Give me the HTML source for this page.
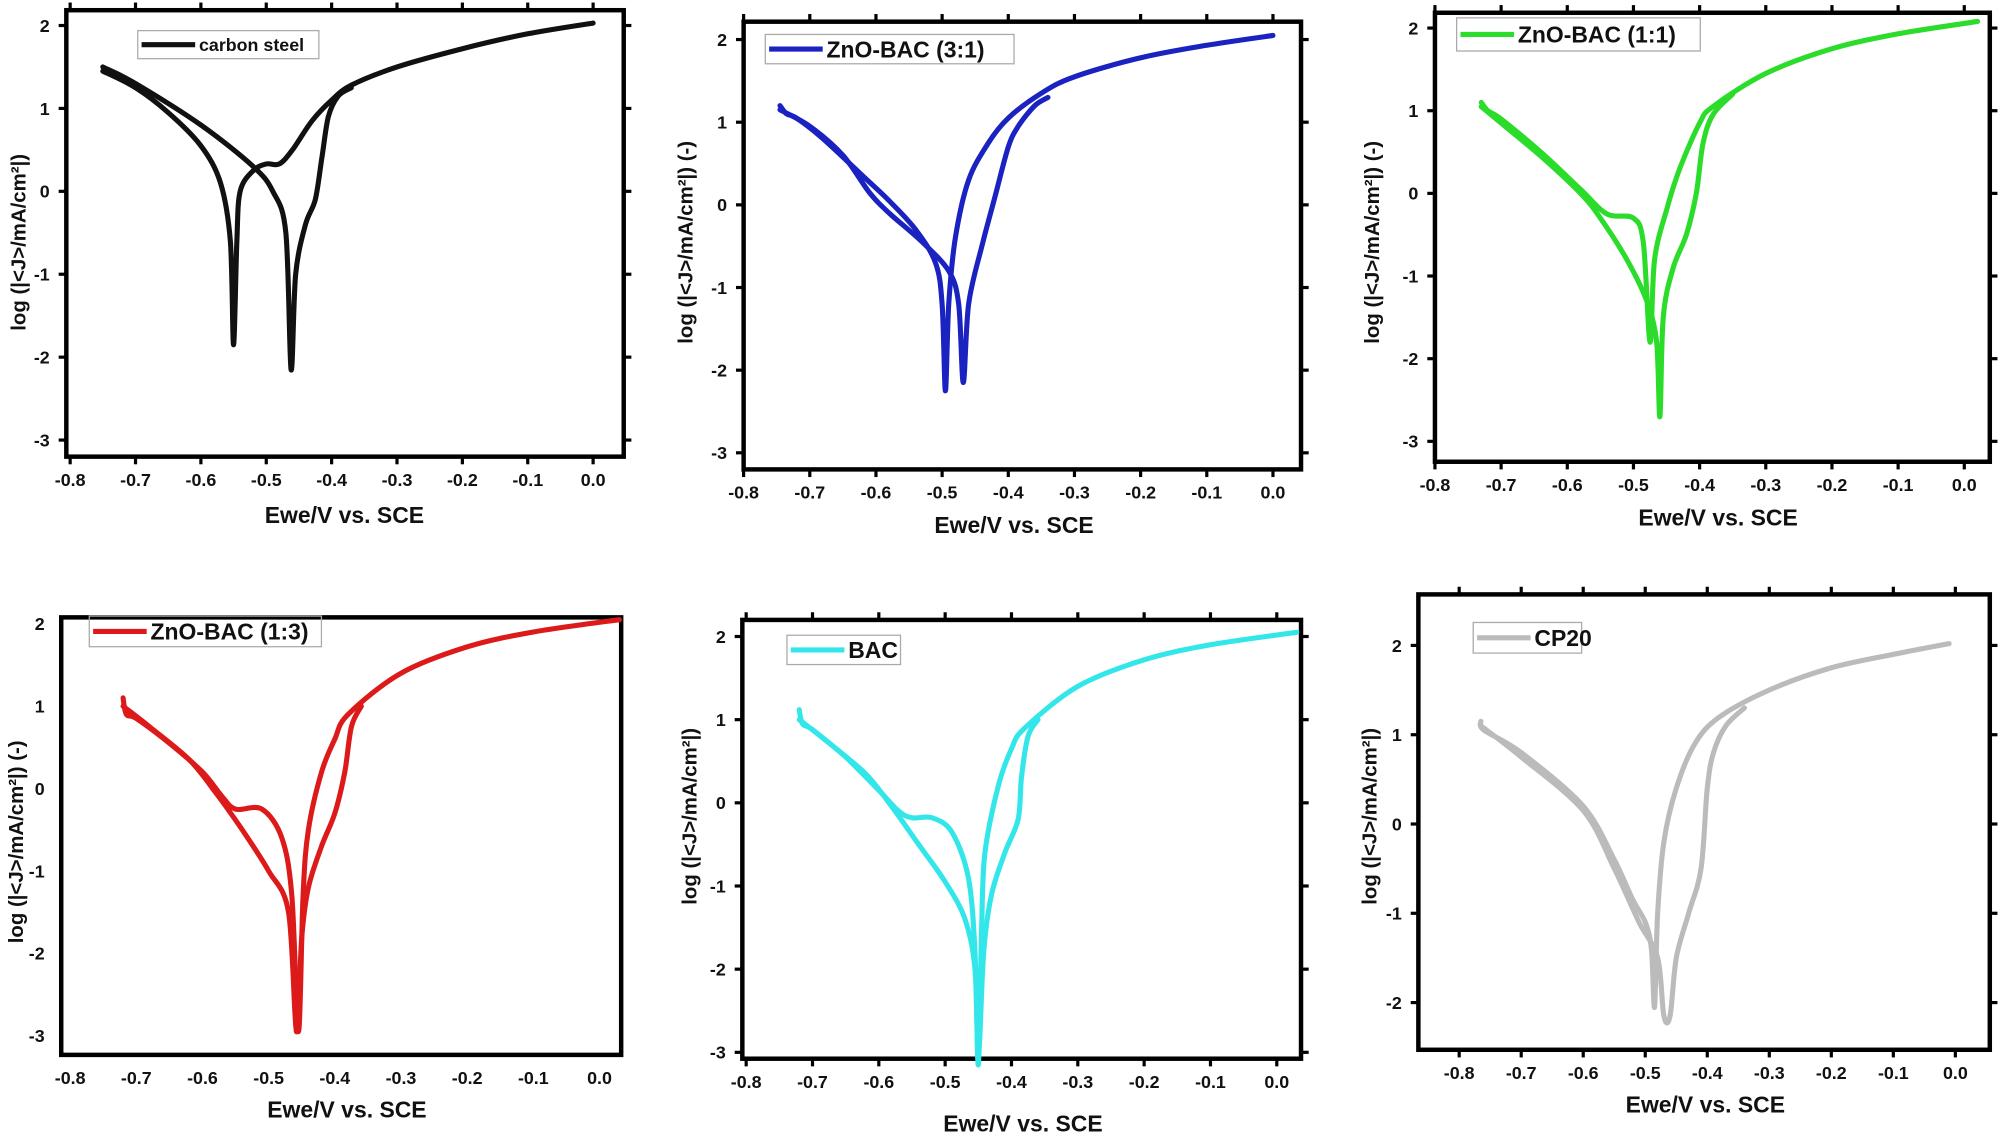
<!DOCTYPE html>
<html><head><meta charset="utf-8"><style>
html,body{margin:0;padding:0;background:#fff;width:2000px;height:1142px;overflow:hidden}
svg{display:block}
text{font-family:"Liberation Sans",Arial,sans-serif;font-weight:bold;fill:#111}
</style></head><body>
<svg id="s" width="2000" height="1142" viewBox="0 0 1568 895.3" preserveAspectRatio="none" xmlns="http://www.w3.org/2000/svg"></svg>
<script>
const P=[
{f:[52,8,489,358],x0:55,x1:465,y2:20,y3:345,col:'#111',lab:'carbon steel',lg:[108,24,250,46],ls:14,yl:[14,190,''],xl:[270,410],ticks:true,
A:[[-0.75,1.45],[-0.7,1.25],[-0.65,0.95],[-0.6,0.55],[-0.57,0.1],[-0.555,-0.6],[-0.55,-1.85],[-0.545,-0.6],[-0.54,0.0],[-0.52,0.25],[-0.5,0.33],[-0.48,0.33],[-0.46,0.5],[-0.43,0.85],[-0.4,1.1],[-0.37,1.28],[-0.3,1.5],[-0.2,1.72],[-0.1,1.9],[0,2.03]],
B:[[-0.75,1.5],[-0.7,1.3],[-0.6,0.8],[-0.52,0.3],[-0.49,0.0],[-0.47,-0.5],[-0.462,-2.15],[-0.455,-1.0],[-0.44,-0.4],[-0.425,-0.1],[-0.415,0.4],[-0.405,0.9],[-0.39,1.15],[-0.37,1.25]]},
{f:[583,17,1020,368],x0:583,x1:998,y2:31,y3:355,col:'#1a22c0',lab:'ZnO-BAC (3:1)',lg:[600,27,795,50],ls:18,yl:[537,190,' (-)'],xl:[795,418],ticks:true,
A:[[-0.745,1.2],[-0.735,1.1],[-0.72,1.05],[-0.68,0.8],[-0.62,0.35],[-0.58,0.05],[-0.54,-0.3],[-0.51,-0.7],[-0.5,-1.2],[-0.495,-2.25],[-0.49,-1.2],[-0.48,-0.4],[-0.46,0.3],[-0.43,0.75],[-0.4,1.05],[-0.35,1.35],[-0.3,1.55],[-0.2,1.78],[-0.1,1.93],[0,2.05]],
B:[[-0.745,1.15],[-0.7,0.95],[-0.65,0.6],[-0.61,0.15],[-0.58,-0.1],[-0.53,-0.45],[-0.49,-0.8],[-0.475,-1.2],[-0.468,-2.15],[-0.46,-1.2],[-0.44,-0.5],[-0.42,0.1],[-0.4,0.7],[-0.385,0.95],[-0.36,1.2],[-0.34,1.3]]},
{f:[1125,10,1560,362],x0:1125,x1:1540,y2:22,y3:346,col:'#2bdc2b',lab:'ZnO-BAC (1:1)',lg:[1142,14,1333,40],ls:18,yl:[1075,190,' (-)'],xl:[1347,412],ticks:true,
A:[[-0.73,1.1],[-0.72,1.0],[-0.7,0.9],[-0.64,0.5],[-0.58,0.05],[-0.54,-0.25],[-0.5,-0.3],[-0.485,-0.6],[-0.475,-1.8],[-0.468,-0.8],[-0.45,-0.2],[-0.43,0.3],[-0.4,0.85],[-0.38,1.05],[-0.3,1.45],[-0.2,1.75],[-0.1,1.93],[0.02,2.08]],
B:[[-0.73,1.05],[-0.7,0.85],[-0.64,0.45],[-0.58,0.0],[-0.55,-0.3],[-0.51,-0.8],[-0.48,-1.3],[-0.465,-1.8],[-0.46,-2.7],[-0.455,-1.5],[-0.44,-0.9],[-0.42,-0.5],[-0.405,0.0],[-0.395,0.6],[-0.38,0.95],[-0.35,1.2]]},
{f:[48,484,487,827],x0:55,x1:470,y2:489,y3:812,col:'#dd1a1a',lab:'ZnO-BAC (1:3)',lg:[70,483,252,507],ls:18,yl:[12,660,' (-)'],xl:[272,876],ticks:false,
A:[[-0.72,1.1],[-0.715,0.9],[-0.7,0.85],[-0.65,0.55],[-0.6,0.2],[-0.57,-0.1],[-0.55,-0.25],[-0.51,-0.25],[-0.48,-0.6],[-0.465,-1.3],[-0.455,-2.95],[-0.448,-1.3],[-0.44,-0.5],[-0.42,0.2],[-0.4,0.6],[-0.38,0.9],[-0.3,1.4],[-0.2,1.72],[-0.1,1.9],[0.03,2.05]],
B:[[-0.72,1.0],[-0.68,0.75],[-0.62,0.35],[-0.58,-0.05],[-0.54,-0.5],[-0.5,-1.0],[-0.47,-1.5],[-0.458,-2.95],[-0.45,-1.8],[-0.44,-1.2],[-0.42,-0.7],[-0.4,-0.3],[-0.385,0.2],[-0.375,0.75],[-0.36,1.0]]},
{f:[582,486,1020,830],x0:585,x1:1001,y2:499,y3:825,col:'#33e6ea',lab:'BAC',lg:[617,498,706,521],ls:18,yl:[540,640,''],xl:[802,887],ticks:true,
A:[[-0.72,1.12],[-0.715,0.95],[-0.7,0.88],[-0.65,0.55],[-0.6,0.15],[-0.57,-0.1],[-0.55,-0.18],[-0.52,-0.18],[-0.49,-0.35],[-0.465,-0.9],[-0.455,-1.8],[-0.45,-3.15],[-0.445,-1.5],[-0.44,-0.6],[-0.42,0.2],[-0.4,0.65],[-0.38,0.9],[-0.3,1.4],[-0.2,1.72],[-0.1,1.9],[0.03,2.05]],
B:[[-0.72,1.0],[-0.68,0.75],[-0.62,0.35],[-0.58,-0.05],[-0.54,-0.5],[-0.5,-0.95],[-0.47,-1.4],[-0.455,-2.0],[-0.45,-3.1],[-0.442,-1.8],[-0.43,-1.1],[-0.41,-0.6],[-0.39,-0.2],[-0.385,0.3],[-0.375,0.8],[-0.36,1.0]]},
{f:[1112,466,1560,823],x0:1144,x1:1533,y2:506,y3:856,col:'#bbbbbb',lab:'CP20',lg:[1155,488,1240,512],ls:18,yl:[1073,640,''],xl:[1337,872],ticks:true,ymin:-2,
A:[[-0.765,1.15],[-0.76,1.05],[-0.7,0.8],[-0.6,0.2],[-0.55,-0.4],[-0.52,-0.85],[-0.5,-1.1],[-0.49,-1.4],[-0.485,-2.05],[-0.48,-1.0],[-0.47,-0.2],[-0.45,0.4],[-0.42,0.9],[-0.38,1.2],[-0.3,1.5],[-0.2,1.75],[-0.1,1.9],[-0.01,2.02]],
B:[[-0.765,1.1],[-0.7,0.75],[-0.6,0.15],[-0.55,-0.5],[-0.51,-1.1],[-0.48,-1.5],[-0.47,-2.15],[-0.46,-2.15],[-0.45,-1.5],[-0.43,-1.0],[-0.41,-0.5],[-0.4,0.4],[-0.39,0.8],[-0.37,1.1],[-0.34,1.3]]}
];
function smooth(pts){
 let d='M'+pts[0][0].toFixed(1)+','+pts[0][1].toFixed(1);
 for(let i=0;i<pts.length-1;i++){
  const p0=pts[Math.max(0,i-1)],p1=pts[i],p2=pts[i+1],p3=pts[Math.min(pts.length-1,i+2)];
  const t=0.16;
  const c1=[p1[0]+(p2[0]-p0[0])*t,p1[1]+(p2[1]-p0[1])*t];
  const c2=[p2[0]-(p3[0]-p1[0])*t,p2[1]-(p3[1]-p1[1])*t];
  d+=` C${c1[0].toFixed(1)},${c1[1].toFixed(1)} ${c2[0].toFixed(1)},${c2[1].toFixed(1)} ${p2[0].toFixed(1)},${p2[1].toFixed(1)}`;
 }
 return d;
}
let h='';
for(const p of P){
 const [L,T,R,Bm]=p.f;
 const X=e=>p.x0+(e+0.8)/0.8*(p.x1-p.x0);
 const Y=v=>p.y2+(2-v)/5*(p.y3-p.y2);
 h+=`<rect x="${L}" y="${T}" width="${R-L}" height="${Bm-T}" fill="none" stroke="#000" stroke-width="3.5"/>`;
 for(let i=0;i<=8;i++){const e=-0.8+i*0.1,x=X(e);
  if(x<L-2||x>R+2)continue;
  if(p.ticks){h+=`<line x1="${x}" y1="${Bm}" x2="${x}" y2="${Bm+6}" stroke="#000" stroke-width="2.5"/><line x1="${x}" y1="${T}" x2="${x}" y2="${T-6}" stroke="#000" stroke-width="2.5"/>`;}
  h+=`<text x="${x}" y="${Bm+23}" font-size="14" text-anchor="middle">${i==8?'0.0':e.toFixed(1)}</text>`;}
 const ymin=p.ymin!==undefined?p.ymin:-3;
 for(let v=2;v>=ymin;v--){const y=Y(v);
  if(p.ticks){h+=`<line x1="${L}" y1="${y}" x2="${L-6}" y2="${y}" stroke="#000" stroke-width="2.5"/><line x1="${R}" y1="${y}" x2="${R+6}" y2="${y}" stroke="#000" stroke-width="2.5"/>`;}
  h+=`<text x="${L-13}" y="${y+5}" font-size="14" text-anchor="end">${v}</text>`;}
 h+=`<text x="${p.xl[0]}" y="${p.xl[1]}" font-size="18" text-anchor="middle">Ewe/V vs. SCE</text>`;
 h+=`<text transform="translate(${p.yl[0]+6},${p.yl[1]}) rotate(-90)" font-size="16" text-anchor="middle">log (|&lt;J&gt;/mA/cm²|)${p.yl[2]}</text>`;
 for(const k of ['A','B']){
  h+=`<path d="${smooth(p[k].map(q=>[X(q[0]),Y(q[1])]))}" fill="none" stroke="${p.col}" stroke-width="4" stroke-linejoin="round" stroke-linecap="round"/>`;}
 const g=p.lg;
 h+=`<rect x="${g[0]}" y="${g[1]}" width="${g[2]-g[0]}" height="${g[3]-g[1]}" fill="none" stroke="#aaa" stroke-width="1"/>`;
 const my=(g[1]+g[3])/2;
 h+=`<line x1="${g[0]+3}" y1="${my}" x2="${g[0]+45}" y2="${my}" stroke="${p.col}" stroke-width="4"/>`;
 h+=`<text x="${g[0]+48}" y="${my+p.ls*0.36}" font-size="${p.ls}">${p.lab}</text>`;
}
document.getElementById('s').innerHTML=h;
</script>
</body></html>
